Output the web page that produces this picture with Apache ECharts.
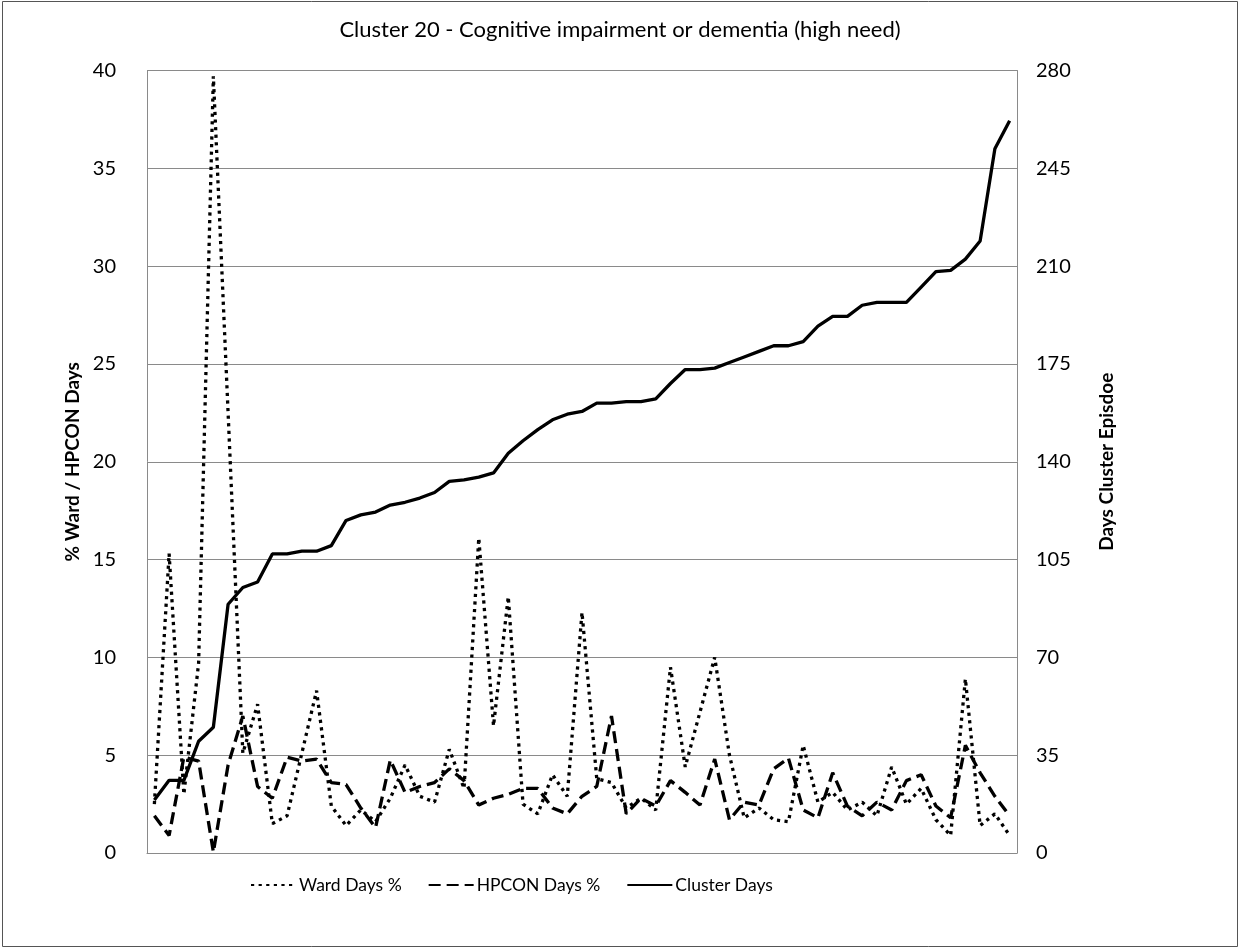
<!DOCTYPE html>
<html>
<head>
<meta charset="utf-8">
<script src="https://cdn.jsdelivr.net/npm/echarts@6/dist/echarts.min.js"></script>
<style>
html,body{margin:0;padding:0;background:#fff;}
#chart{width:1240px;height:949px;}
</style>
</head>
<body>
<div id="chart"></div>
<script>
const titleText = 'Cluster 20 - Cognitive impairment or dementia (high need)';
const seriesNames = ['Ward Days %', 'HPCON Days %', 'Cluster Days'];
const leftAxisName = '% Ward / HPCON Days';
const rightAxisName = 'Days Cluster Episdoe';

const wardDays = [2.5, 15.3, 3.0, 9.7, 39.7, 22.5, 5.1, 7.6, 1.5, 1.9,
  5.1, 8.3, 2.4, 1.4, 2.2, 1.6, 2.8, 4.5, 2.9, 2.6,
  5.3, 3.3, 16.1, 6.5, 13.1, 2.5, 2.0, 4.0, 2.9, 12.3,
  3.8, 3.6, 2.3, 2.8, 2.2, 9.5, 4.4, 7.2, 10.0, 5.0,
  1.8, 2.3, 1.7, 1.6, 5.5, 2.6, 3.1, 2.2, 2.6, 1.9,
  4.4, 2.5, 3.3, 1.7, 0.9, 8.9, 1.4, 2.0, 0.9];

const hpconDays = [1.9, 0.9, 4.9, 4.7, 0.05, 4.5, 7.0, 3.4, 2.8, 4.9,
  4.7, 4.8, 3.6, 3.5, 2.3, 1.3, 4.75, 3.1, 3.4, 3.6,
  4.3, 3.7, 2.45, 2.8, 3.0, 3.3, 3.3, 2.3, 2.0, 2.9,
  3.4, 7.0, 2.0, 2.8, 2.4, 3.7, 3.1, 2.45, 4.8, 1.7,
  2.6, 2.45, 4.3, 4.85, 2.2, 1.8, 4.1, 2.4, 1.9, 2.6,
  2.2, 3.7, 4.0, 2.4, 1.8, 5.5, 4.1, 2.9, 1.9];

const clusterDays = [19, 26, 26, 40, 45, 89, 95, 97, 107, 107,
  108, 108, 110, 119, 121, 122, 124.5, 125.5, 127, 129,
  133, 133.5, 134.5, 136, 143, 147.5, 151.5, 155, 157, 158,
  161, 161, 161.5, 161.5, 162.5, 168, 173, 173, 173.5, 175.5,
  177.5, 179.5, 181.5, 181.5, 183, 188.5, 192, 192, 196, 197,
  197, 197, 202.5, 208, 208.5, 212.5, 219, 252, 262];

const categories = clusterDays.map((_, i) => String(i + 1));

const leftTicks = {min: 0, max: 40, interval: 5};
const rightTicks = {min: 0, max: 280, interval: 35};

const FONT = 'Lato, "Open Sans", sans-serif';
const GRID_COLOR = '#8a8a8a';

const chart = echarts.init(document.getElementById('chart'), null, {renderer: 'canvas'});
chart.setOption({
  backgroundColor: '#ffffff',
  animation: false,
  textStyle: {fontFamily: FONT, color: '#000'},
  title: {
    text: titleText,
    left: 'center',
    top: 14,
    textStyle: {fontFamily: FONT, fontSize: 22, fontWeight: 'normal', color: '#000'}
  },
  legend: {
    left: 245,
    top: 871,
    itemWidth: 45,
    itemHeight: 12,
    itemGap: 26,
    itemStyle: {opacity: 0},
    textStyle: {fontFamily: FONT, fontSize: 17.5, color: '#000', padding: [0, 0, 0, -2]},
    data: seriesNames
  },
  grid: {left: 147, right: 223, top: 70.5, bottom: 96, containLabel: false},
  xAxis: {
    type: 'category',
    data: categories,
    boundaryGap: true,
    axisLine: {show: true, lineStyle: {color: GRID_COLOR, width: 1}},
    axisTick: {show: false},
    axisLabel: {show: false},
    splitLine: {show: false}
  },
  yAxis: [
    {
      type: 'value',
      min: leftTicks.min, max: leftTicks.max, interval: leftTicks.interval,
      name: leftAxisName,
      nameLocation: 'middle',
      nameRotate: 90,
      nameGap: 62,
      nameTextStyle: {fontFamily: FONT, fontSize: 19, fontWeight: 'bold', color: '#000'},
      axisLine: {show: true, lineStyle: {color: GRID_COLOR, width: 1}},
      axisTick: {show: false},
      axisLabel: {margin: 31, fontFamily: FONT, fontSize: 20, color: '#000'},
      splitLine: {show: true, lineStyle: {color: GRID_COLOR, width: 1}}
    },
    {
      type: 'value',
      position: 'right',
      min: rightTicks.min, max: rightTicks.max, interval: rightTicks.interval,
      name: rightAxisName,
      nameLocation: 'middle',
      nameRotate: 90,
      nameGap: 80,
      nameTextStyle: {fontFamily: FONT, fontSize: 19, fontWeight: 'bold', color: '#000'},
      axisLine: {show: true, lineStyle: {color: GRID_COLOR, width: 1}},
      axisTick: {show: false},
      axisLabel: {margin: 19, fontFamily: FONT, fontSize: 20, color: '#000'},
      splitLine: {show: false}
    }
  ],
  series: [
    {
      name: seriesNames[0],
      type: 'line',
      yAxisIndex: 0,
      data: wardDays,
      symbol: 'none',
      itemStyle: {color: '#000'},
      lineStyle: {color: '#000', width: 3.3, type: [3.2, 4.4], cap: 'butt'}
    },
    {
      name: seriesNames[1],
      type: 'line',
      yAxisIndex: 0,
      data: hpconDays,
      symbol: 'none',
      itemStyle: {color: '#000'},
      lineStyle: {color: '#000', width: 3.3, type: [12, 6], cap: 'butt'}
    },
    {
      name: seriesNames[2],
      type: 'line',
      yAxisIndex: 1,
      data: clusterDays,
      symbol: 'none',
      itemStyle: {color: '#000'},
      lineStyle: {color: '#000', width: 3.3, type: 'solid'}
    }
  ],
  graphic: [{
    type: 'rect',
    shape: {x: 2.5, y: 1.5, width: 1235, height: 945},
    style: {fill: 'none', stroke: '#555', lineWidth: 1},
    silent: true,
    z: -1
  }]
});
</script>
</body>
</html>
